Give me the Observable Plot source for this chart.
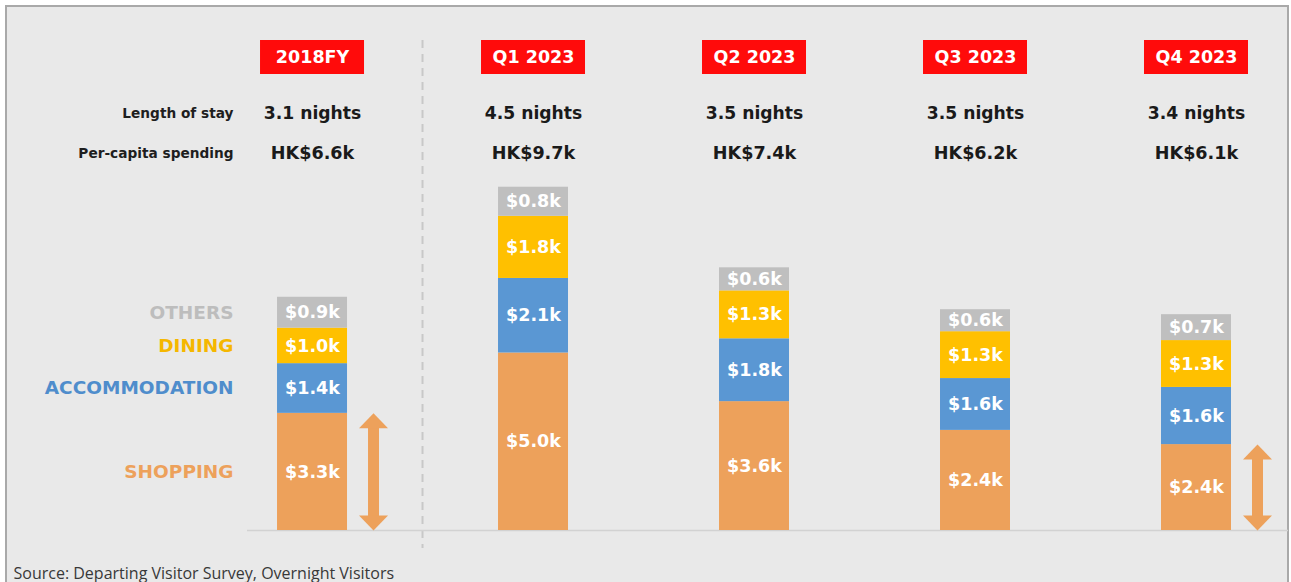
<!DOCTYPE html>
<html>
<head>
<meta charset="utf-8">
<script src="https://cdn.jsdelivr.net/npm/d3@7"></script>
<script src="https://cdn.jsdelivr.net/npm/@observablehq/plot@0.6"></script>
<style>
  html, body { margin: 0; padding: 0; background: #ffffff; overflow: hidden; }
  #box { position: absolute; left: 5px; top: 5px; width: 1280px; height: 620px;
         background: #e9e9e9; border: 2px solid #a9a9a9; border-bottom: none; }
  #chart { position: absolute; left: 0; top: 0; }
  g[aria-label="badge"] rect { filter: drop-shadow(0 0 6px rgba(255, 30, 30, 0.55)); }
</style>
</head>
<body>
<div id="box"></div>
<div id="chart"></div>
<script>
// ---- data ----
const periods = ["2018FY", "Q1 2023", "Q2 2023", "Q3 2023", "Q4 2023"];
const categories = ["Shopping", "Accommodation", "Dining", "Others"];
// segment heights as drawn
const shopping      = [3.30, 5.00, 3.63, 2.82, 2.42];
const accommodation = [1.40, 2.10, 1.77, 1.46, 1.61];
const dining        = [1.00, 1.75, 1.35, 1.32, 1.32];
const others        = [0.87, 0.82, 0.65, 0.62, 0.73];
// values as printed on the segments
const shoppingShown      = [3.3, 5.0, 3.6, 2.4, 2.4];
const accommodationShown = [1.4, 2.1, 1.8, 1.6, 1.6];
const diningShown        = [1.0, 1.8, 1.3, 1.3, 1.3];
const othersShown        = [0.9, 0.8, 0.6, 0.6, 0.7];
const lengthOfStay = [3.1, 4.5, 3.5, 3.5, 3.4];
const perCapita    = [6.6, 9.7, 7.4, 6.2, 6.1];
const arrowPeriods = ["2018FY", "Q4 2023"];
const source = "Source: Departing Visitor Survey, Overnight Visitors";

const colors = {Shopping: "#eda15b", Accommodation: "#5a97d3", Dining: "#ffc000", Others: "#bfbfbf"};
const legendColors = {Shopping: "#eda15b", Accommodation: "#4f8dcc", Dining: "#f5b700", Others: "#bdbdbd"};

const series = {Shopping: shopping, Accommodation: accommodation, Dining: dining, Others: others};
const shown = {Shopping: shoppingShown, Accommodation: accommodationShown, Dining: diningShown, Others: othersShown};

const rows = [];
periods.forEach((p, i) => categories.forEach(c => rows.push({
  period: p, category: c, value: series[c][i], label: `$${shown[c][i].toFixed(1)}k`
})));
const headers = periods.map((p, i) => ({
  period: p, stay: `${lengthOfStay[i].toFixed(1)} nights`, spend: `HK$${perCapita[i].toFixed(1)}k`
}));
const arrows = arrowPeriods.map(p => ({period: p, top: shopping[periods.indexOf(p)]}));

// ---- layout ----
const W = 1291, H = 582, base = 530, K = 35.5;   // px per HK$1k
const py = px => (base - px) / K;                 // pixel row -> y value
const bold = "DejaVu Sans";

const upHead = {draw(ctx) { ctx.moveTo(0, 0); ctx.lineTo(14.5, 15); ctx.lineTo(-14.5, 15); ctx.closePath(); }};
const downHead = {draw(ctx) { ctx.moveTo(0, 0); ctx.lineTo(14.5, -15); ctx.lineTo(-14.5, -15); ctx.closePath(); }};

const plot = Plot.plot({
  width: W, height: H,
  marginLeft: 247, marginRight: 3, marginTop: 0, marginBottom: H - base,
  style: {background: "transparent", fontFamily: bold, overflow: "visible"},
  x: {domain: periods, paddingInner: 0.6833, paddingOuter: 0.1969, align: 0.345, round: false, axis: null},
  y: {domain: [0, base / K], axis: null},
  color: {domain: categories, range: categories.map(c => colors[c])},
  marks: [
    // separator between 2018 and 2023
    Plot.ruleX(["Q1 2023"], {dx: -111, y1: py(40), y2: py(548), stroke: "#c8c8c8", strokeWidth: 2, strokeDasharray: "8,6"}),
    Plot.ruleY([0], {stroke: "#d2d2d2", strokeWidth: 1.5}),
    // stacked bars
    Plot.barY(rows, Plot.stackY({x: "period", y: "value", fill: "category"})),
    Plot.text(rows, Plot.stackY({x: "period", y: "value", text: "label", fill: "white",
      fontWeight: "bold", fontSize: 17.5})),
    // arrows
    Plot.ruleX(arrows, {x: "period", dx: 61, y1: "top", y2: 0, insetTop: 12, insetBottom: 12,
      stroke: "#eda15b", strokeWidth: 11}),
    Plot.dot(arrows, {x: "period", dx: 61, y: "top", symbol: upHead, fill: "#eda15b", stroke: null}),
    Plot.dot(arrows, {x: "period", dx: 61, y: 0, symbol: downHead, fill: "#eda15b", stroke: null}),
    // legend labels aligned with 2018 segments
    Plot.text(rows.filter(d => d.period === "2018FY"), Plot.stackY({
      y: "value", text: d => d.category.toUpperCase(), fill: d => legendColors[d.category],
      frameAnchor: "left", dx: -14, textAnchor: "end", fontWeight: "bold", fontSize: 18.5})),
    // badges
    Plot.barY(periods, {x: d => d, y1: py(74), y2: py(40), fill: "#ff0b0b",
      insetLeft: -17, insetRight: -17, ariaLabel: "badge"}),
    Plot.text(periods, {x: d => d, text: d => d, frameAnchor: "top", lineAnchor: "middle", dy: 57, fill: "white",
      fontWeight: "bold", fontSize: 17.5}),
    // header rows
    Plot.text(["Length of stay"], {frameAnchor: "top-left", lineAnchor: "middle", dx: -14, dy: 113, textAnchor: "end",
      fill: "#1e1e1e", fontWeight: "bold", fontSize: 13.7}),
    Plot.text(["Per-capita spending"], {frameAnchor: "top-left", lineAnchor: "middle", dx: -14, dy: 153, textAnchor: "end",
      fill: "#1e1e1e", fontWeight: "bold", fontSize: 13.7}),
    Plot.text(headers, {x: "period", text: "stay", frameAnchor: "top", lineAnchor: "middle", dy: 113,
      fill: "#1a1a1a", fontWeight: "bold", fontSize: 17.2}),
    Plot.text(headers, {x: "period", text: "spend", frameAnchor: "top", lineAnchor: "middle", dy: 153,
      fill: "#1a1a1a", fontWeight: "bold", fontSize: 17.6}),
    // source
    Plot.text([source], {frameAnchor: "bottom-left", lineAnchor: "middle", dx: 13 - 247, dy: 43, textAnchor: "start",
      fill: "#383838", fontFamily: "Open Sans", fontSize: 16})
  ]
});
document.getElementById("chart").appendChild(plot);
</script>
</body>
</html>
